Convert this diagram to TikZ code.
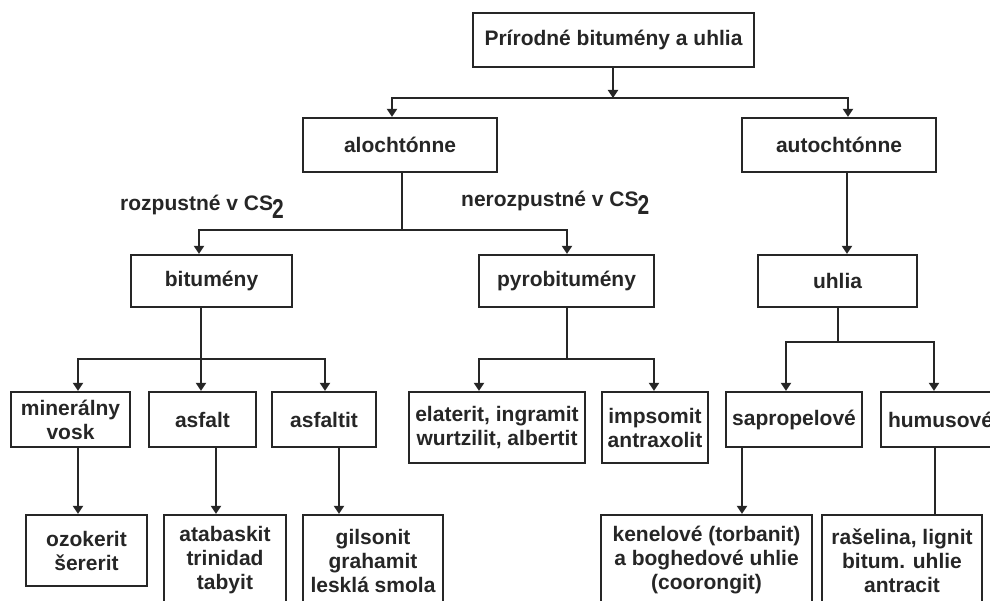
\documentclass[tikz,border=0pt]{standalone}
\usepackage{fontspec}
\usepackage{graphicx}
\setmainfont{Liberation Sans}
\usetikzlibrary{arrows.meta}
\definecolor{ink}{HTML}{262626}
\newcommand{\subtwo}{\kern-1pt\raisebox{-8pt}{\scalebox{1}[1.3]{2}}}
\begin{document}
\begin{tikzpicture}[x=1pt,y=-1pt,
  box/.style={draw=ink, line width=2.2pt, text=ink, inner sep=0pt, align=center,
    font=\fontsize{21}{24}\selectfont\bfseries},
  conn/.style={draw=ink, line width=2pt, line cap=rect},
  arr/.style={conn, -{Triangle[width=10pt,length=8pt]}},
  lbl/.style={text=ink, inner sep=0pt, font=\fontsize{21}{24}\selectfont\bfseries}]
\useasboundingbox (0,0) rectangle (990,601);
\clip (0,0) rectangle (990,601);

% level 0
\node[box, minimum width=281pt, minimum height=54pt] (title) at (613.5,40) {Prírodné bitumény a uhlia};
% level 1
\node[box, minimum width=194pt, minimum height=54pt] (alo) at (400,145) {alochtónne};
\node[box, minimum width=194pt, minimum height=54pt] (aut) at (839,145) {autochtónne};
% level 2
\node[box, minimum width=161pt, minimum height=52pt] (bit) at (211.5,281) {bitumény};
\node[box, minimum width=175pt, minimum height=52pt] (pyro) at (566.5,281) {pyrobitumény};
\node[box, minimum width=159pt, minimum height=52pt] (uhl) at (837.5,281) {uhlia};
% level 3
\node[box, minimum width=119pt, minimum height=55pt] (min) at (70.5,419.5) {minerálny\\vosk};
\node[box, minimum width=107pt, minimum height=55pt] (asf) at (202.5,419.5) {asfalt};
\node[box, minimum width=104pt, minimum height=55pt] (asft) at (324,419.5) {asfaltit};
\node[box, minimum width=176pt, minimum height=71pt] (ela) at (497,427.5) {elaterit, ingramit\\wurtzilit, albertit};
\node[box, minimum width=106pt, minimum height=71pt] (imp) at (655,427.5) {impsomit\\antraxolit};
\node[box, minimum width=136pt, minimum height=55pt] (sap) at (794,419.5) {sapropelové};
\node[box, minimum width=119pt, minimum height=55pt] (hum) at (940.5,419.5) {humusové};
% level 4
\node[box, minimum width=121pt, minimum height=71pt] (ozo) at (86.5,550.5) {ozokerit\\šererit};
\node[box, minimum width=122pt, minimum height=91pt] (ata) at (225,560.5) {atabaskit\\trinidad\\tabyit};
\node[box, minimum width=140pt, minimum height=91pt] (gil) at (373,560.5) {gilsonit\\grahamit\\lesklá smola};
\node[box, minimum width=211pt, minimum height=91pt] (ken) at (706.5,560.5) {kenelové (torbanit)\\a boghedové uhlie\\(coorongit)};
\node[box, minimum width=160pt, minimum height=91pt] (ras) at (902,560.5) {rašelina, lignit\\bitum. uhlie\\antracit};

% labels
\node[lbl, anchor=base west] (lrozp) at (120,211) {rozpustné v CS\subtwo};
\node[lbl, anchor=base west] (lneroz) at (461,207) {nerozpustné v CS\subtwo};

% title -> level 1
\coordinate (j0) at (613,98);
\coordinate (jL) at (392,98);
\coordinate (jR) at (848,98);
\draw[conn] (jL) -- (jR);
\draw[arr] (title.south -| j0) -- (j0);
\draw[arr] (jL) -- (jL |- alo.north);
\draw[arr] (jR) -- (jR |- aut.north);

% alochtonne -> bitumeny / pyrobitumeny
\coordinate (k0) at (402,230);
\coordinate (kL) at (199,230);
\coordinate (kR) at (567,230);
\draw[conn] (alo.south -| k0) -- (k0);
\draw[conn] (kL) -- (kR);
\draw[arr] (kL) -- (kL |- bit.north);
\draw[arr] (kR) -- (kR |- pyro.north);

% autochtonne -> uhlia
\coordinate (m0) at (847,0);
\draw[arr] (aut.south -| m0) -- (uhl.north -| m0);

% bitumeny -> children
\coordinate (b0) at (201,359);
\coordinate (bL) at (78,359);
\coordinate (bR) at (325,359);
\draw[conn] (bL) -- (bR);
\draw[arr] (bit.south -| b0) -- (asf.north -| b0);
\draw[arr] (bL) -- (min.north -| bL);
\draw[arr] (bR) -- (asft.north -| bR);

% pyrobitumeny -> children
\coordinate (p0) at (567,359);
\coordinate (pL) at (479,359);
\coordinate (pR) at (654,359);
\draw[conn] (pyro.south -| p0) -- (p0);
\draw[conn] (pL) -- (pR);
\draw[arr] (pL) -- (ela.north -| pL);
\draw[arr] (pR) -- (imp.north -| pR);

% uhlia -> children
\coordinate (u0) at (838,342);
\coordinate (uL) at (786,342);
\coordinate (uR) at (934,342);
\draw[conn] (uhl.south -| u0) -- (u0);
\draw[conn] (uL) -- (uR);
\draw[arr] (uL) -- (sap.north -| uL);
\draw[arr] (uR) -- (hum.north -| uR);

% level 3 -> level 4
\coordinate (c1) at (78,0);
\coordinate (c2) at (216,0);
\coordinate (c3) at (339,0);
\coordinate (c4) at (742,0);
\coordinate (c5) at (935,0);
\draw[arr] (min.south -| c1) -- (ozo.north -| c1);
\draw[arr] (asf.south -| c2) -- (ata.north -| c2);
\draw[arr] (asft.south -| c3) -- (gil.north -| c3);
\draw[arr] (sap.south -| c4) -- (ken.north -| c4);
\draw[conn] (hum.south -| c5) -- (ras.north -| c5);
\end{tikzpicture}
\end{document}
